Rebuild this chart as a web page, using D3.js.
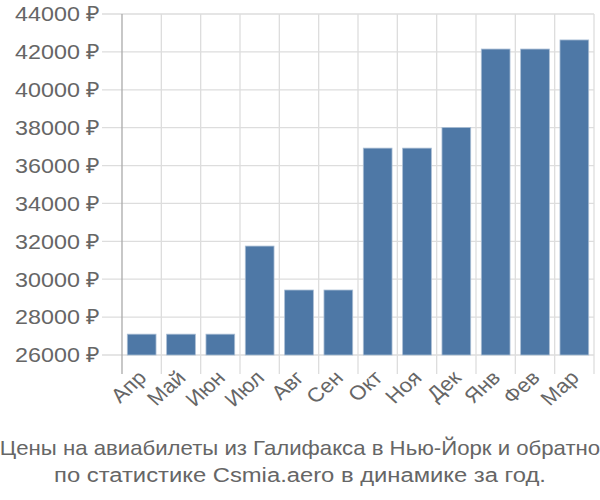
<!DOCTYPE html>
<html><head><meta charset="utf-8">
<script src="https://cdn.jsdelivr.net/npm/d3@7"></script>
<style>body{margin:0;background:#fff}svg{display:block}</style>
</head><body>
<svg id="c" width="600" height="500"></svg>
<script>
const categories = ["Апр","Май","Июн","Июл","Авг","Сен","Окт","Ноя","Дек","Янв","Фев","Мар"];
const prices = [27100,27100,27100,31750,29430,29430,36920,36920,38010,42150,42150,42630];
const yTicks = [26000,28000,30000,32000,34000,36000,38000,40000,42000,44000];
const titleLines = ["Цены на авиабилеты из Галифакса в Нью-Йорк и обратно","по статистике Csmia.aero в динамике за год."];

(function(){
const svg = d3.select("#c");
const pL = 122, pR = 594, pT = 14, pB = 355;
const sx = 1.11;
const titleScale = [1.11, 1.19];
const x = d3.scaleBand().domain(categories).range([pL, pR]).paddingInner(0.27).paddingOuter(0.135);
const xg = d3.scaleBand().domain(categories).range([pL, pR]);
const y = d3.scaleLinear().domain([26000, 44000]).range([pB, pT]);
const font = "'Liberation Sans', Arial, sans-serif";

// horizontal grid
svg.append("g").selectAll("line").data(yTicks).join("line")
  .attr("x1", 102).attr("x2", pR).attr("y1", d => y(d)).attr("y2", d => y(d))
  .attr("stroke", "#ddd").attr("stroke-width", 1.3);
// vertical grid
const vx = categories.map(c => xg(c)).concat([pR]);
svg.append("g").selectAll("line").data(vx.slice(1)).join("line")
  .attr("x1", d => d).attr("x2", d => d).attr("y1", pT).attr("y2", 374)
  .attr("stroke", "#ddd").attr("stroke-width", 1.3);
// y axis line
svg.append("line").attr("x1", pL).attr("x2", pL).attr("y1", pT).attr("y2", 374)
  .attr("stroke", "#aaa").attr("stroke-width", 1.3);

// bars
svg.append("g").selectAll("rect").data(prices).join("rect")
  .attr("x", (d,i) => x(categories[i]))
  .attr("width", x.bandwidth())
  .attr("y", d => y(d))
  .attr("height", d => y(26000) - y(d))
  .attr("fill", "#4e78a6")
  .attr("stroke", "#a9bdd4").attr("stroke-width", 0.8);

// y labels
svg.append("g").selectAll("text").data(yTicks).join("text")
  .attr("transform", d => `translate(100,${y(d)}) scale(${sx},1)`)
  .attr("dy", "0.35em")
  .attr("text-anchor", "end").attr("fill", "#666")
  .style("font", "21px " + font)
  .text(d => d + " ₽");

// x labels
svg.append("g").selectAll("text").data(categories).join("text")
  .attr("text-anchor", "end").attr("fill", "#666")
  .style("font", "20px " + font)
  .attr("transform", d => `translate(${xg(d) + xg.bandwidth()/2 + 6},${379}) scale(${sx},1) rotate(-45)`)
  .text(d => d);

// title
svg.append("g").selectAll("text").data(titleLines).join("text")
  .attr("transform", (d,i) => `translate(300,${455 + i*27}) scale(${titleScale[i]},1)`)
  .attr("text-anchor", "middle").attr("fill", "#666")
  .style("font", "20px " + font)
  .text(d => d);
})();
</script>
</body></html>
